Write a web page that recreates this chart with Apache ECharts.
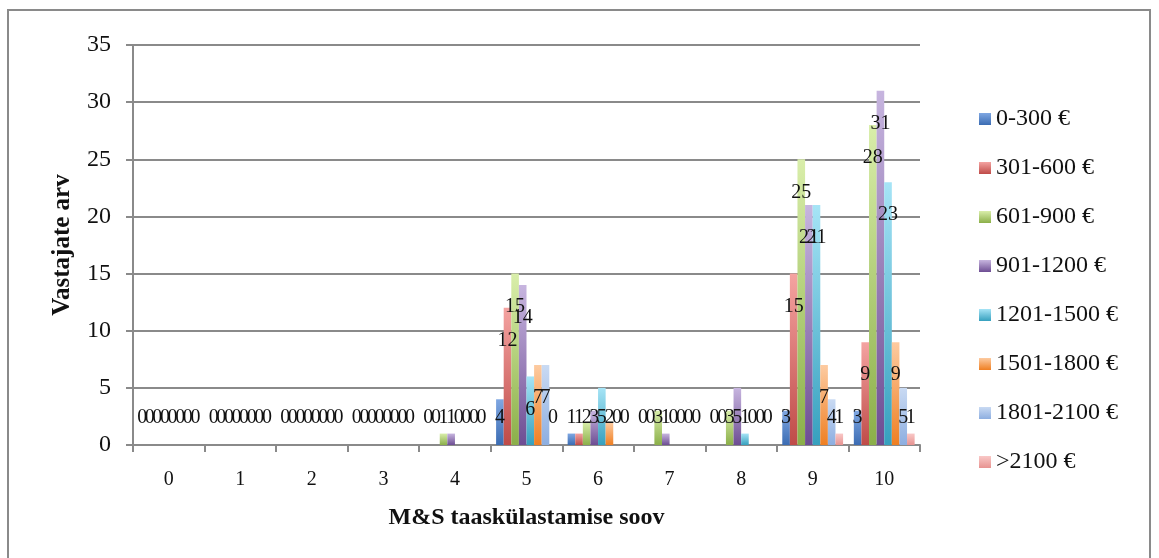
<!DOCTYPE html>
<html>
<head>
<meta charset="utf-8">
<script src="https://cdn.jsdelivr.net/npm/echarts@6/dist/echarts.min.js"></script>
<style>
html,body{margin:0;padding:0;background:#fff;}
#c{width:1159px;height:558px;}
</style>
</head>
<body>
<div id="c"></div>
<script>
var categories = ['0','1','2','3','4','5','6','7','8','9','10'];
var seriesNames = ['0-300 €','301-600 €','601-900 €','901-1200 €','1201-1500 €','1501-1800 €','1801-2100 €','>2100 €'];
var s0_300     = [0,0,0,0,0,4,1,0,0,3,3];
var s301_600   = [0,0,0,0,0,12,1,0,0,15,9];
var s601_900   = [0,0,0,0,1,15,2,3,3,25,28];
var s901_1200  = [0,0,0,0,1,14,3,1,5,21,31];
var s1201_1500 = [0,0,0,0,0,6,5,0,1,21,23];
var s1501_1800 = [0,0,0,0,0,7,2,0,0,7,9];
var s1801_2100 = [0,0,0,0,0,7,0,0,0,4,5];
var s2100plus  = [0,0,0,0,0,0,0,0,0,1,1];
var yTicks = [0,5,10,15,20,25,30,35];

var allSeries = [s0_300,s301_600,s601_900,s901_1200,s1201_1500,s1501_1800,s1801_2100,s2100plus];
var colorsTop = ['#7FA7E2','#F4A3A1','#D9EEAA','#C7B5DF','#A6E4F6','#FDCBA1','#C9DAF3','#F9C8C7'];
var colorsBot = ['#3B6CB3','#BF4B48','#8BAF49','#6D4D93','#36A0BE','#EF7F22','#8DAEE0','#E79391'];

var gridTop = 45, gridBottom = 113;
var plotH = 558 - gridTop - gridBottom;
var pxPerUnit = plotH / 35;

var serif = '"Liberation Serif", "DejaVu Serif", serif';

var series = allSeries.map(function (arr, i) {
  return {
    name: seriesNames[i],
    type: 'bar',
    barGap: '0%',
    barCategoryGap: '15%',
    itemStyle: {
      color: new echarts.graphic.LinearGradient(0, 0, 0, 1, [
        {offset: 0, color: colorsTop[i]},
        {offset: 1, color: colorsBot[i]}
      ])
    },
    data: arr.map(function (v) {
      var dy = Math.min(33, v * pxPerUnit - 27);
      return {
        value: v,
        label: {offset: [0, dy]}
      };
    }),
    label: {
      show: true,
      position: 'top',
      distance: 0,
      verticalAlign: 'middle',
      align: 'center',
      color: '#111',
      fontFamily: serif,
      fontSize: 20
    }
  };
});

var chart = echarts.init(document.getElementById('c'), null, {renderer: 'canvas'});
chart.setOption({
  animation: false,
  backgroundColor: '#fff',
  graphic: [{
    type: 'rect',
    shape: {x: 8, y: 10, width: 1142, height: 560},
    style: {fill: 'none', stroke: '#8a8a8a', lineWidth: 2},
    silent: true
  }],
  grid: {left: 133, right: 239, top: gridTop, bottom: gridBottom, containLabel: false},
  legend: {
    orient: 'vertical',
    left: 974,
    top: 101,
    itemWidth: 12,
    itemHeight: 12,
    itemGap: 23,
    icon: 'rect',
    data: seriesNames,
    textStyle: {fontFamily: serif, fontSize: 24, color: '#111', lineHeight: 26}
  },
  xAxis: {
    type: 'category',
    data: categories,
    name: 'M&S taaskülastamise soov',
    nameLocation: 'middle',
    nameGap: 61,
    nameTextStyle: {fontFamily: serif, fontSize: 24, fontWeight: 'bold', color: '#111'},
    axisLine: {lineStyle: {color: '#8a8a8a', width: 2}},
    axisTick: {show: true, length: 7, lineStyle: {color: '#8a8a8a', width: 2}, alignWithLabel: false},
    axisLabel: {fontFamily: serif, fontSize: 20, color: '#111', margin: 25}
  },
  yAxis: {
    type: 'value',
    min: 0,
    max: 35,
    interval: 5,
    name: 'Vastajate arv',
    nameLocation: 'middle',
    nameGap: 58,
    nameRotate: 90,
    nameTextStyle: {fontFamily: serif, fontSize: 25, fontWeight: 'bold', color: '#111'},
    axisLine: {show: true, lineStyle: {color: '#8a8a8a', width: 2}},
    axisTick: {show: true, length: 7, lineStyle: {color: '#8a8a8a', width: 2}},
    axisLabel: {fontFamily: serif, fontSize: 24, color: '#111', margin: 22,
      formatter: function (v) { return yTicks.indexOf(v) >= 0 ? String(v) : ''; }},
    splitLine: {show: true, lineStyle: {color: '#8a8a8a', width: 2}}
  },
  series: series
});
</script>
</body>
</html>
